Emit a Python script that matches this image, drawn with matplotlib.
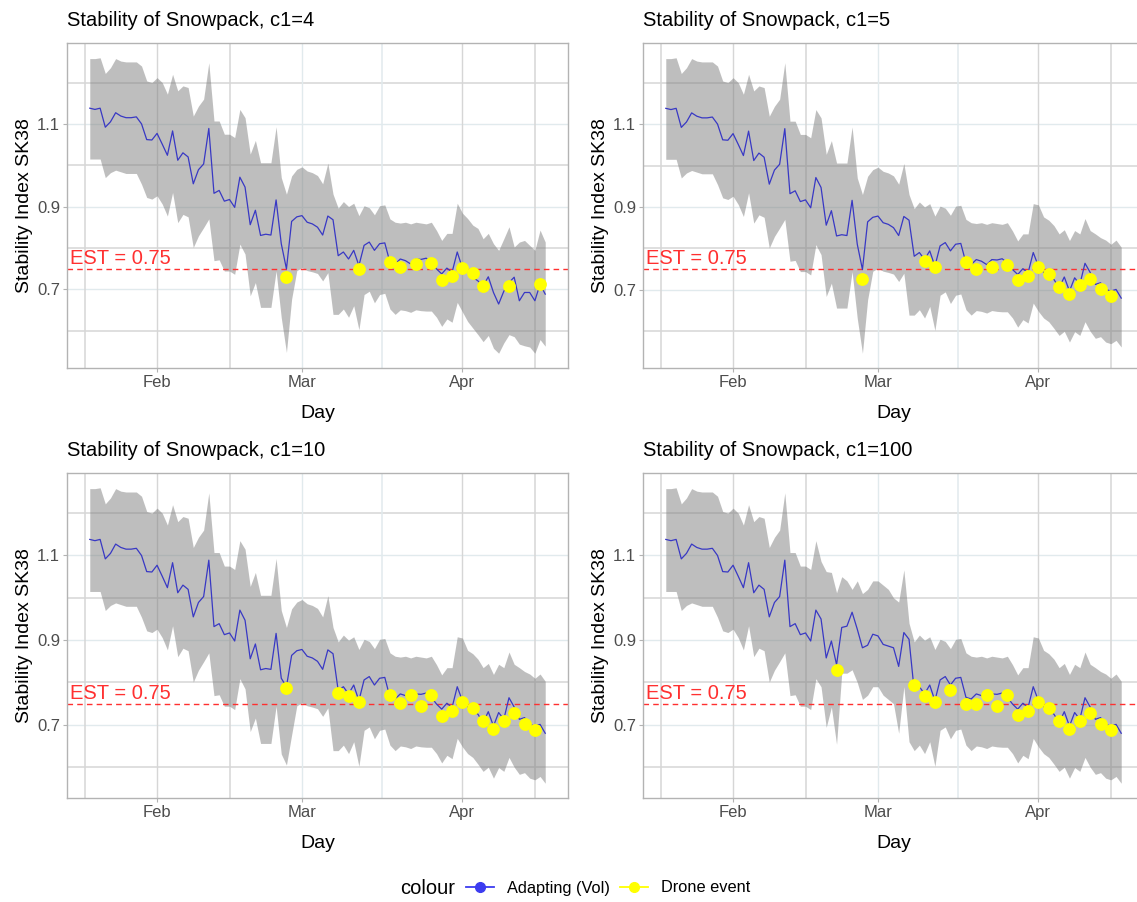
import numpy as np
import pandas as pd
import matplotlib
matplotlib.use('Agg')
import matplotlib.pyplot as plt
import matplotlib.dates as mdates
import matplotlib.transforms as mtransforms
from matplotlib.lines import Line2D

plt.rcParams['font.family'] = ['Liberation Sans', 'DejaVu Sans']

# daily series, Jan 19 .. Apr 16
days = pd.date_range('2019-01-19', periods=89, freq='D')

# adapting estimate and its band for c1=4 (shared by the other runs where unchanged)
base_line = [1.138, 1.135, 1.138, 1.092, 1.105, 1.127, 1.119, 1.115, 1.115, 1.117,
             1.100, 1.062, 1.061, 1.077, 1.051, 1.024, 1.083, 1.012, 1.030, 1.020,
             0.955, 0.989, 1.003, 1.089, 0.932, 0.939, 0.913, 0.917, 0.898, 0.971,
             0.947, 0.856, 0.891, 0.830, 0.833, 0.831, 0.916, 0.810, 0.749, 0.864,
             0.875, 0.878, 0.862, 0.858, 0.850, 0.831, 0.877, 0.868, 0.781, 0.790,
             0.773, 0.794, 0.757, 0.806, 0.814, 0.794, 0.810, 0.812, 0.765, 0.761,
             0.773, 0.769, 0.761, 0.773, 0.772, 0.775, 0.765, 0.749, 0.737, 0.751,
             0.741, 0.790, 0.751, 0.744, 0.729, 0.720, 0.708, 0.730, 0.692, 0.664,
             0.695, 0.716, 0.729, 0.672, 0.692, 0.692, 0.672, 0.712, 0.688]
base_upper = [1.258, 1.258, 1.260, 1.222, 1.236, 1.258, 1.252, 1.250, 1.250, 1.250,
              1.240, 1.204, 1.200, 1.212, 1.200, 1.172, 1.220, 1.180, 1.192, 1.188,
              1.119, 1.143, 1.160, 1.248, 1.107, 1.107, 1.075, 1.075, 1.067, 1.135,
              1.115, 1.027, 1.060, 1.006, 1.006, 1.006, 1.093, 0.970, 0.930, 0.974,
              0.990, 0.996, 0.986, 0.982, 0.975, 0.955, 1.005, 0.930, 0.896, 0.912,
              0.900, 0.908, 0.878, 0.902, 0.897, 0.880, 0.902, 0.904, 0.870, 0.862,
              0.860, 0.862, 0.858, 0.862, 0.860, 0.858, 0.862, 0.842, 0.818, 0.835,
              0.835, 0.908, 0.884, 0.871, 0.855, 0.847, 0.822, 0.835, 0.810, 0.794,
              0.822, 0.851, 0.802, 0.814, 0.818, 0.806, 0.794, 0.843, 0.814]
base_lower = [1.015, 1.015, 1.015, 0.970, 0.982, 0.988, 0.984, 0.980, 0.980, 0.980,
              0.954, 0.922, 0.918, 0.926, 0.906, 0.877, 0.934, 0.861, 0.881, 0.875,
              0.801, 0.829, 0.849, 0.870, 0.769, 0.771, 0.744, 0.744, 0.736, 0.809,
              0.785, 0.684, 0.716, 0.656, 0.656, 0.656, 0.744, 0.631, 0.547, 0.676,
              0.745, 0.752, 0.745, 0.742, 0.738, 0.720, 0.740, 0.639, 0.639, 0.652,
              0.632, 0.660, 0.602, 0.687, 0.695, 0.667, 0.687, 0.690, 0.652, 0.639,
              0.650, 0.648, 0.644, 0.650, 0.648, 0.647, 0.647, 0.632, 0.610, 0.628,
              0.620, 0.668, 0.645, 0.622, 0.606, 0.590, 0.573, 0.588, 0.557, 0.545,
              0.570, 0.590, 0.585, 0.567, 0.563, 0.560, 0.545, 0.578, 0.562]

# April stretch (day 72 on) for c1=5, 10, 100
late_start = 72
late_line = [0.757, 0.742, 0.733, 0.725, 0.705, 0.731, 0.697, 0.729, 0.713,
             0.764, 0.742, 0.713, 0.717, 0.701, 0.697, 0.701, 0.680]
late_upper = [0.905, 0.876, 0.868, 0.855, 0.835, 0.845, 0.819, 0.843, 0.835,
              0.872, 0.843, 0.835, 0.826, 0.820, 0.810, 0.820, 0.803]
late_lower = [0.648, 0.632, 0.623, 0.607, 0.590, 0.600, 0.574, 0.599, 0.590,
              0.623, 0.600, 0.583, 0.587, 0.574, 0.570, 0.578, 0.562]

# c1=10: no dip at the end of February
c10_day = 38
c10_line = 0.790
c10_lower = 0.605

# c1=100: late-February stretch (days 30..47)
mid_start = 30
mid_line = [0.950, 0.858, 0.898, 0.842, 0.930, 0.933, 0.966, 0.926, 0.882,
            0.888, 0.914, 0.910, 0.890, 0.886, 0.882, 0.838, 0.918, 0.902]
mid_upper = [1.086, 1.062, 1.060, 1.012, 1.050, 1.040, 1.020, 1.040, 1.010,
             1.020, 1.040, 1.040, 1.030, 1.020, 1.000, 0.990, 1.066, 0.940]
mid_lower = [0.790, 0.694, 0.742, 0.654, 0.822, 0.822, 0.830, 0.800, 0.760,
             0.770, 0.790, 0.790, 0.770, 0.760, 0.750, 0.680, 0.790, 0.660]

# drone events: day index and observed SK38
ev4_days = [38, 52, 58, 60, 63, 66, 68, 70, 72, 74, 76, 81, 87]
ev4_vals = [0.729, 0.749, 0.765, 0.753, 0.760, 0.764, 0.722, 0.733, 0.752, 0.740, 0.708, 0.708, 0.712]
ev5_days = [38, 50, 52, 58, 60, 63, 66, 68, 70, 72, 74, 76, 78, 80, 82, 84, 86]
ev5_vals = [0.727, 0.770, 0.754, 0.766, 0.750, 0.756, 0.759, 0.723, 0.733, 0.754, 0.737,
            0.706, 0.690, 0.711, 0.727, 0.701, 0.685]
ev10_days = [38, 48, 50, 52, 58, 60, 62, 64, 66, 68, 70, 72, 74, 76, 78, 80, 82, 84, 86]
ev10_vals = [0.787, 0.775, 0.767, 0.755, 0.770, 0.751, 0.770, 0.745, 0.770, 0.722, 0.733,
             0.753, 0.740, 0.710, 0.690, 0.710, 0.729, 0.702, 0.688]
ev100_days = [33, 48, 50, 52, 55, 58, 60, 62, 64, 66, 68, 70, 72, 74, 76, 78, 80, 82, 84, 86]
ev100_vals = [0.829, 0.793, 0.767, 0.755, 0.782, 0.748, 0.750, 0.770, 0.745, 0.770, 0.724,
              0.733, 0.754, 0.740, 0.710, 0.690, 0.710, 0.729, 0.702, 0.688]

EST = 0.75

BLUE = '#3838c4'
YELLOW = '#ffff00'
RED = '#ff3030'
GRID_A = '#e1eaed'
GRID_B = '#d6d6d6'


def build(c1):
    line = np.array(base_line)
    upper = np.array(base_upper)
    lower = np.array(base_lower)
    if c1 != 4:
        line[late_start:] = late_line
        upper[late_start:] = late_upper
        lower[late_start:] = late_lower
    if c1 == 10:
        line[c10_day] = c10_line
        lower[c10_day] = c10_lower
    if c1 == 100:
        n = len(mid_line)
        line[mid_start:mid_start + n] = mid_line
        upper[mid_start:mid_start + n] = mid_upper
        lower[mid_start:mid_start + n] = mid_lower
    return line, upper, lower


W, H = 1137, 902
fig = plt.figure(figsize=(W / 100, H / 100), dpi=100)

panels = [
    (4, ev4_days, ev4_vals, 67, 43),
    (5, ev5_days, ev5_vals, 643, 43),
    (10, ev10_days, ev10_vals, 67, 473),
    (100, ev100_days, ev100_vals, 643, 473),
]
pw, ph = 501, 325

x = mdates.date2num(days)
pad = 0.05 * (x[-1] - x[0])
major = [mdates.datestr2num(s) for s in ['2019-02-01', '2019-03-01', '2019-04-01']]
minor = [mdates.datestr2num(s) for s in ['2019-01-18', '2019-02-15',
                                         '2019-03-16 12:00', '2019-04-15']]

for c1, ev_days, ev_vals, left, top in panels:
    ax = fig.add_axes([left / W, 1 - (top + ph) / H, pw / W, ph / H])
    line, upper, lower = build(c1)

    ax.set_xlim(x[0] - pad, x[-1] + pad)
    lo, hi = lower.min(), upper.max()
    ax.set_ylim(lo - 0.05 * (hi - lo), hi + 0.05 * (hi - lo))

    # grid
    for v in [0.7, 0.9, 1.1]:
        ax.axhline(v, color=GRID_A, lw=1.0, zorder=0)
    for v in [0.6, 0.8, 1.0, 1.2]:
        ax.axhline(v, color=GRID_B, lw=1.1, zorder=0)
    for i, v in enumerate(major):
        ax.axvline(v, color=GRID_A if i == 1 else GRID_B, lw=1.0, zorder=0)
    for i, v in enumerate(minor):
        ax.axvline(v, color=GRID_A if i == 2 else GRID_B, lw=1.1, zorder=0)

    ax.fill_between(x, lower, upper, color='#7f7f7f', alpha=0.5, lw=0, zorder=1)
    ax.axhline(EST, color=RED, lw=1.0, ls=(0, (4, 3)), zorder=2)
    ax.plot(x, line, color=BLUE, lw=0.9, zorder=3)
    ax.scatter(x[ev_days], ev_vals, s=85, color=YELLOW, lw=0, zorder=4)

    trans = mtransforms.blended_transform_factory(ax.transAxes, ax.transData)
    ax.text(0.006, EST + 0.002, 'EST = 0.75', transform=trans, color=RED,
            fontsize=14.5, ha='left', va='bottom', zorder=5)

    ax.set_xticks(major)
    ax.set_xticklabels(['Feb', 'Mar', 'Apr'])
    ax.set_yticks([0.7, 0.9, 1.1])
    ax.set_yticklabels(['0.7', '0.9', '1.1'])
    ax.tick_params(length=3, color='#b3b3b3', labelcolor='#4d4d4d', labelsize=12, pad=2)
    for sp in ax.spines.values():
        sp.set_color('#b3b3b3')
        sp.set_linewidth(1.0)

    ax.set_xlabel('Day', fontsize=14, labelpad=11)
    ax.set_ylabel('Stability Index SK38', fontsize=14, labelpad=3)

    fig.text(left / W, 1 - (top - 22) / H, 'Stability of Snowpack, c1=%d' % c1,
             fontsize=14.5, ha='left', va='center')

# legend
fig.text(455 / W, 1 - 888 / H, 'colour', fontsize=14.5, ha='right', va='center')
handles = [Line2D([], [], color='#3c3cf0', marker='o', markersize=7, lw=1.3),
           Line2D([], [], color=YELLOW, marker='o', markersize=7, lw=1.3)]
fig.legend(handles, ['Adapting (Vol)', 'Drone event'], loc='center left',
           bbox_to_anchor=(466 / W, 1 - 888 / H), ncol=2, frameon=False,
           fontsize=11.8, handlelength=1.7, handletextpad=0.8, columnspacing=0.6,
           borderpad=0, borderaxespad=0)

fig.savefig('out.png', dpi=100, facecolor='white')
